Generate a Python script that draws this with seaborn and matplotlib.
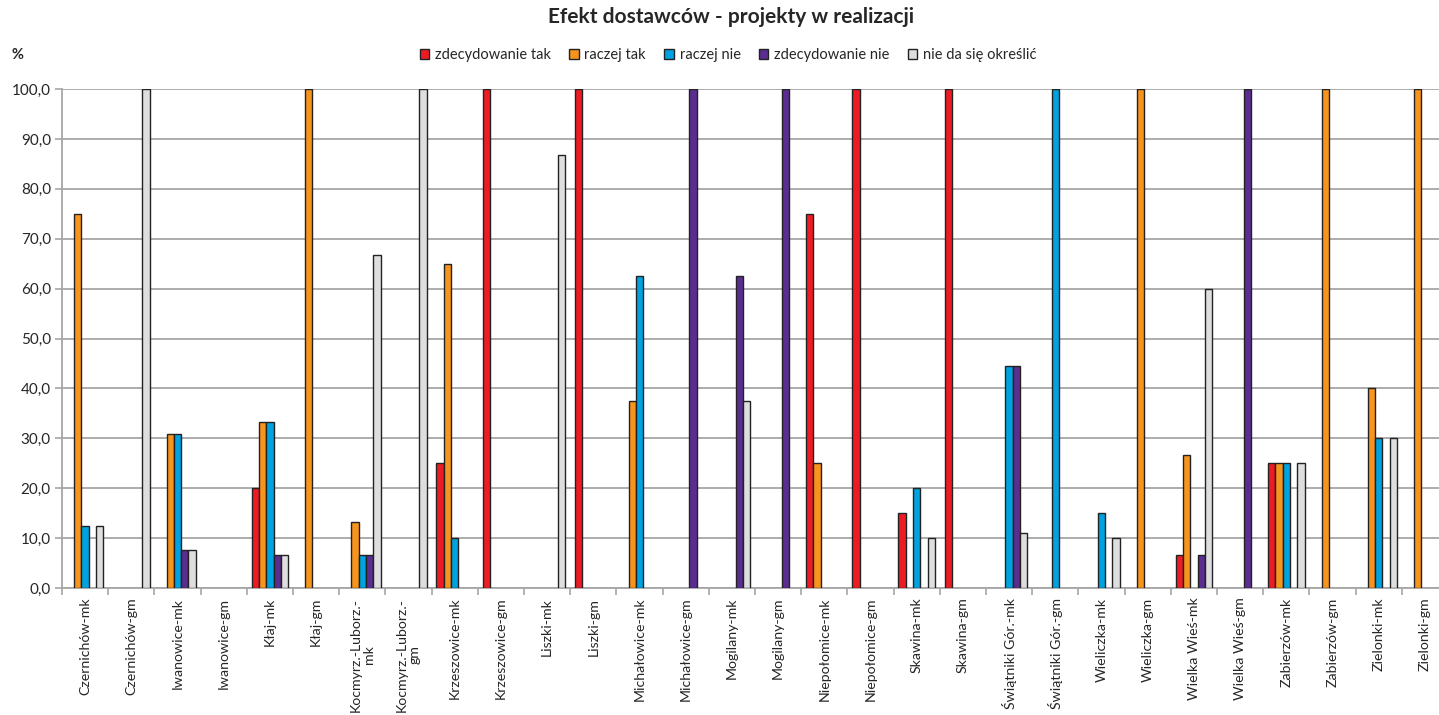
import numpy as np
import pandas as pd
import matplotlib
matplotlib.use("Agg")
import matplotlib.pyplot as plt
from matplotlib.patches import Patch
import seaborn as sns

categories = ["Czernichów-mk", "Czernichów-gm", "Iwanowice-mk", "Iwanowice-gm",
              "Kłaj-mk", "Kłaj-gm", "Kocmyrz.-Luborz.-\nmk", "Kocmyrz.-Luborz.-\ngm",
              "Krzeszowice-mk", "Krzeszowice-gm", "Liszki-mk", "Liszki-gm",
              "Michałowice-mk", "Michałowice-gm", "Mogilany-mk", "Mogilany-gm",
              "Niepołomice-mk", "Niepołomice-gm", "Skawina-mk", "Skawina-gm",
              "Świątniki Gór.-mk", "Świątniki Gór.-gm", "Wieliczka-mk", "Wieliczka-gm",
              "Wielka Wieś-mk", "Wielka Wieś-gm", "Zabierzów-mk", "Zabierzów-gm",
              "Zielonki-mk", "Zielonki-gm"]

series_names = ["zdecydowanie tak", "raczej tak", "raczej nie", "zdecydowanie nie", "nie da się określić"]

zdecydowanie_tak = [0, 0, 0, 0, 20, 0, 0, 0, 25, 100, 0, 100, 0, 0, 0, 0, 75, 100, 15, 100,
                    0, 0, 0, 0, 6.7, 0, 25, 0, 0, 0]
raczej_tak = [75, 0, 30.8, 0, 33.3, 100, 13.3, 0, 65, 0, 0, 0, 37.5, 0, 0, 0, 25, 0, 0, 0,
              0, 0, 0, 100, 26.7, 0, 25, 100, 40, 100]
raczej_nie = [12.5, 0, 30.8, 0, 33.3, 0, 6.7, 0, 10, 0, 0, 0, 62.5, 0, 0, 0, 0, 0, 20, 0,
              44.4, 100, 15, 0, 0, 0, 25, 0, 30, 0]
zdecydowanie_nie = [0, 0, 7.7, 0, 6.7, 0, 6.7, 0, 0, 0, 0, 0, 0, 100, 62.5, 100, 0, 0, 0, 0,
                    44.4, 0, 0, 0, 6.7, 100, 0, 0, 0, 0]
nie_da_sie = [12.5, 100, 7.7, 0, 6.7, 0, 66.7, 100, 0, 0, 86.7, 0, 0, 0, 37.5, 0, 0, 0, 10, 0,
              11.1, 0, 10, 0, 60, 0, 25, 0, 30, 0]

colors = ["#ED1C24", "#F7941E", "#00A3DF", "#5C2D91", "#DEDEDE"]

series_values = [zdecydowanie_tak, raczej_tak, raczej_nie, zdecydowanie_nie, nie_da_sie]
rows = []
for name, vals in zip(series_names, series_values):
    for cat, v in zip(categories, vals):
        rows.append({"kategoria": cat, "seria": name, "wartosc": v if v > 0 else np.nan})
df = pd.DataFrame(rows)

sns.set_theme(style="white")
plt.rcParams["font.family"] = ["Lato", "DejaVu Sans"]

fig = plt.figure(figsize=(14.39, 7.15), dpi=100)
ax = fig.add_axes([62 / 1439, 1 - 588 / 715, (1448 - 62) / 1439, (588 - 89) / 715])

sns.barplot(data=df, x="kategoria", y="wartosc", hue="seria", order=categories,
            hue_order=series_names, palette=colors, saturation=1, width=0.79, errorbar=None,
            edgecolor="#222222", linewidth=1.0, ax=ax, legend=False, zorder=3)

ax.set_ylim(0, 100)
ax.set_xlim(-0.5, len(categories) - 0.5)
yt = np.arange(0, 101, 10)
ax.set_yticks(yt)
ax.set_yticklabels([f"{v:.1f}".replace(".", ",") for v in yt], fontsize=11)
ax.yaxis.grid(True, color="#A6A6A6", linewidth=1.3, zorder=0)
ax.set_axisbelow(True)

ax.set_xticks(range(len(categories)))
ax.set_xticklabels(categories, rotation=90, fontsize=10.2,
                   ha="center", va="top", multialignment="center", linespacing=1.1)
ax.set_xticks(np.arange(-0.5, len(categories), 1), minor=True)
ax.tick_params(axis="x", which="major", length=0, pad=7)
ax.tick_params(axis="x", which="minor", length=5, color="#A6A6A6", width=1.2, direction="out")
ax.tick_params(axis="y", length=5, color="#A6A6A6", width=1.2, direction="out", pad=3)
ax.tick_params(axis="y", which="both", left=True)
ax.tick_params(axis="x", which="minor", bottom=True)

ax.set_xlabel("")
ax.set_ylabel("")
for s in ["top", "right"]:
    ax.spines[s].set_visible(False)
for s in ["left", "bottom"]:
    ax.spines[s].set_color("#A6A6A6")
    ax.spines[s].set_linewidth(1.3)

fig.text(0.508, 1 - 17 / 715, "Efekt dostawców - projekty w realizacji", ha="center", va="center",
         fontsize=15, fontweight="bold")
fig.text(12 / 1439, 1 - 55 / 715, "%", ha="left", va="center", fontsize=10.5, fontweight="bold")

handles = [Patch(facecolor=c, edgecolor="#222222", linewidth=1.0) for c in colors]
fig.legend(handles, series_names, loc="center", bbox_to_anchor=(0.506, 1 - 55 / 715), ncol=5,
           frameon=False, fontsize=10.5, handlelength=0.65, handleheight=0.65,
           handletextpad=0.4, columnspacing=1.25)

fig.savefig("out.png", dpi=100)
